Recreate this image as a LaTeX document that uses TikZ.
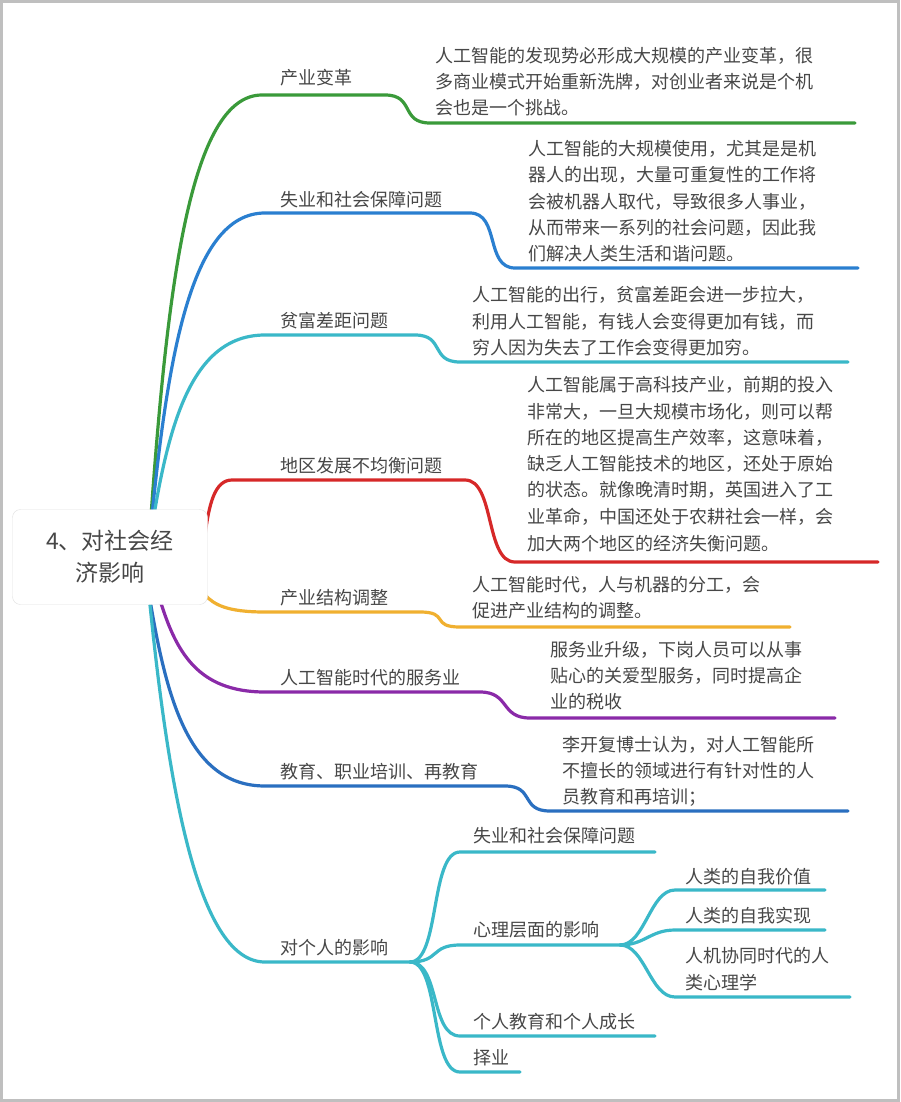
\documentclass[tikz,border=0pt]{standalone}
\usepackage{fontspec}
\newfontfamily\cjk{Noto Sans CJK SC}
\begin{document}
\begin{tikzpicture}[x=1pt,y=-1pt,
  txt/.style={anchor=base west,inner sep=0,font=\cjk\fontsize{18}{18}\selectfont,text=black!72},
  ln/.style={line width=3.2pt,line cap=round}]
\useasboundingbox (0,0) rectangle (900,1102);
\fill[white] (0,0) rectangle (900,1102);
\draw[black!25,line width=3pt] (1.5,1.5) rectangle (898.5,1100.5);
\definecolor{cg}{HTML}{3A9A3A}
\definecolor{cb}{HTML}{2A7FD0}
\definecolor{cc}{HTML}{3AB8C8}
\definecolor{cr}{HTML}{D62828}
\definecolor{co}{HTML}{F0B030}
\definecolor{cp}{HTML}{8A2AA8}
\definecolor{cd}{HTML}{2A6FC0}
\newcommand\mybr[9]{%
  \coordinate (s) at (#2,#3); \coordinate (a) at (#4,#5); \coordinate (b) at (#6,#5);
  \coordinate (c) at (#7,#8); \coordinate (d) at (#9,#8);
  \draw[ln,#1] (s) .. controls ({#2+0.15*(#4-#2)},{#3+0.55*(#5-#3)}) and ({#2+0.35*(#4-#2)},#5) .. (a) -- (b)
     .. controls ({#6+30},#5) and ({#7-30},#8) .. (c) -- (d);}
\mybr{cg}{150}{530}{262}{95}{385}{430}{123}{855}
\mybr{cb}{150}{535}{265}{213}{470}{515}{268}{858}
\mybr{cc}{150}{540}{265}{335}{415}{460}{362}{848}
\mybr{cr}{205}{535}{232}{480}{465}{515}{562}{878}
\mybr{co}{205}{595}{265}{612}{420}{460}{627}{790}
\mybr{cp}{160}{600}{265}{692}{480}{530}{718}{835}
\mybr{cd}{150}{600}{265}{786}{505}{550}{811}{848}
\coordinate (p0) at (150,605); \coordinate (p1) at (265,962); \coordinate (p2) at (410,962);
\draw[ln,cc] (p0) .. controls (170,800) and (200,962) .. (p1) -- (p2);
\foreach \y/\e in {852/655,945/620,1036/655,1072/520}{
  \draw[ln,cc] (p2) .. controls (440,962) and (430,\y) .. (460,\y) -- (\e,\y);}
\coordinate (q) at (620,945);
\foreach \y/\e in {890/825,930/825,997/850}{
  \draw[ln,cc] (q) .. controls (645,945) and (650,\y) .. (675,\y) -- (\e,\y);}
\node[draw=black!12,fill=white,rounded corners=8pt,minimum width=195pt,minimum height=95pt,
  align=center,font=\cjk\fontsize{23}{34}\selectfont,text=black!72] (root) at (110,557) {4、对社会经\\[-2pt]济影响};
\node[txt] (l1) at (280,85) {产业变革};
\node[txt] (l2) at (280,206) {失业和社会保障问题};
\node[txt] (l3) at (280,327) {贫富差距问题};
\node[txt] (l4) at (280,472) {地区发展不均衡问题};
\node[txt] (l5) at (280,604) {产业结构调整};
\node[txt] (l6) at (280,684) {人工智能时代的服务业};
\node[txt] (l7) at (280,778) {教育、职业培训、再教育};
\node[txt] (l8) at (280,954) {对个人的影响};
\node[txt] (m1) at (473,842) {失业和社会保障问题};
\node[txt] (m2) at (473,936) {心理层面的影响};
\node[txt] (m3) at (473,1028) {个人教育和个人成长};
\node[txt] (m4) at (473,1064) {择业};
\node[txt] (n1) at (685,883) {人类的自我价值};
\node[txt] (n2) at (685,922) {人类的自我实现};
\node[txt] (n3) at (685,962) {人机协同时代的人};
\node[txt] (n3b) at (685,989) {类心理学};
\newcommand\dl[3]{\node[txt] at (#1,#2) {#3};}
\dl{435}{63}{人工智能的发现势必形成大规模的产业变革，很}
\dl{435}{89}{多商业模式开始重新洗牌，对创业者来说是个机}
\dl{435}{115}{会也是一个挑战。}
\dl{528}{156}{人工智能的大规模使用，尤其是是机}
\dl{528}{182}{器人的出现，大量可重复性的工作将}
\dl{528}{208}{会被机器人取代，导致很多人事业，}
\dl{528}{234}{从而带来一系列的社会问题，因此我}
\dl{528}{260}{们解决人类生活和谐问题。}
\dl{472}{301}{人工智能的出行，贫富差距会进一步拉大，}
\dl{472}{328}{利用人工智能，有钱人会变得更加有钱，而}
\dl{472}{354}{穷人因为失去了工作会变得更加穷。}
\dl{527}{391}{人工智能属于高科技产业，前期的投入}
\dl{527}{418}{非常大，一旦大规模市场化，则可以帮}
\dl{527}{444}{所在的地区提高生产效率，这意味着，}
\dl{527}{470}{缺乏人工智能技术的地区，还处于原始}
\dl{527}{496}{的状态。就像晚清时期，英国进入了工}
\dl{527}{523}{业革命，中国还处于农耕社会一样，会}
\dl{527}{550}{加大两个地区的经济失衡问题。}
\dl{472}{591}{人工智能时代，人与机器的分工，会}
\dl{472}{617}{促进产业结构的调整。}
\dl{550}{656}{服务业升级，下岗人员可以从事}
\dl{550}{682}{贴心的关爱型服务，同时提高企}
\dl{550}{708}{业的税收}
\dl{562}{751}{李开复博士认为，对人工智能所}
\dl{562}{777}{不擅长的领域进行有针对性的人}
\dl{562}{803}{员教育和再培训；}
\end{tikzpicture}
\end{document}
